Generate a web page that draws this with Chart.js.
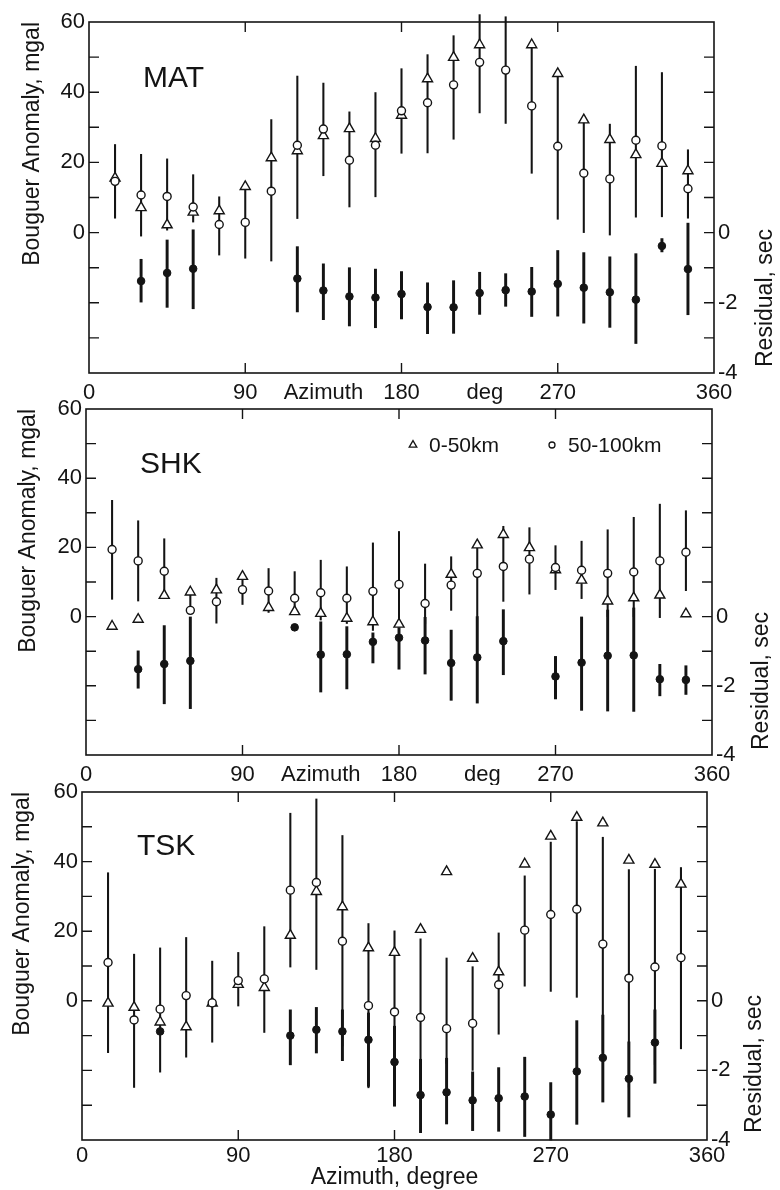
<!DOCTYPE html>
<html>
<head>
<meta charset="utf-8">
<script src="https://cdn.jsdelivr.net/npm/chart.js@4.4.1/dist/chart.umd.min.js"></script>
<style>
html,body{margin:0;padding:0;background:#fff;}
body{width:780px;height:1190px;position:relative;overflow:hidden;}
canvas{position:absolute;left:0;}
</style>
</head>
<body>
<canvas id="c1"></canvas>
<canvas id="c2"></canvas>
<canvas id="c3"></canvas>
<script>
// ---------- DATA ----------
const azimuth = [15,30,45,60,75,90,105,120,135,150,165,180,195,210,225,240,255,270,285,300,315,330,345];

// MAT
const matTri   = [15.5,7.1,2.2,5.8,6.2,13.1,21.3,23.3,27.6,29.6,26.8,33.4,43.8,49.9,53.5,62.9,53.5,45.3,32.1,26.5,22.2,19.7,17.6];
const matCirc  = [14.6,10.7,10.3,7.3,2.3,2.9,11.8,24.9,29.5,20.6,24.9,34.7,37.0,42.1,48.5,46.3,36.1,24.6,16.9,15.3,26.3,24.7,12.5];
const matHi    = [25.1,22.3,21.0,16.5,10.2,13.1,32.2,44.6,42.6,34.4,39.9,46.7,50.7,56.1,62.1,61.5,53.5,45.3,32.1,30.9,47.4,45.6,23.6];
const matLo    = [4.1,-1.0,0.7,3.0,-6.4,-7.3,-8.1,4.0,16.2,7.3,10.2,22.6,22.7,26.6,34.1,31.1,16.9,3.8,0.0,-0.7,4.4,4.5,4.1];
const matRes   = [null,-1.38,-1.15,-1.03,null,null,null,-1.31,-1.65,-1.82,-1.85,-1.75,-2.12,-2.13,-1.72,-1.64,-1.68,-1.46,-1.57,-1.70,-1.91,-0.38,-1.04];
const matResHi = [null,-0.76,-0.21,0.08,null,null,null,-0.40,-0.89,-1.00,-1.04,-1.11,-1.43,-1.37,-1.13,-1.17,-0.99,-0.51,-0.57,-0.69,-0.60,-0.17,0.27];
const matResLo = [null,-1.98,-2.13,-2.17,null,null,null,-2.26,-2.48,-2.66,-2.71,-2.46,-2.88,-2.87,-2.33,-2.10,-2.39,-2.38,-2.58,-2.70,-3.16,-0.55,-2.34];

// SHK
const shkTri   = [-2.8,-0.8,6.1,7.1,7.7,11.6,2.6,1.4,0.9,-0.5,-1.5,-2.2,null,12.2,20.7,23.7,19.9,13.5,10.5,4.5,5.4,6.2,0.8];
const shkCirc  = [19.4,16.1,13.1,1.8,4.3,7.8,7.4,5.3,6.9,5.3,7.3,9.3,3.8,9.1,12.5,14.5,16.6,14.2,13.4,12.5,12.9,16.1,18.6];
const shkHi    = [33.6,27.7,22.5,7.1,11.1,11.6,13.9,13.0,16.3,14.4,21.3,24.6,15.2,17.3,20.7,26.1,25.7,20.5,21.8,25.1,28.7,32.5,30.6];
const shkLo    = [5.0,4.5,6.1,1.8,-1.9,3.5,1.2,1.4,-1.0,-2.0,-4.0,-2.2,-2.0,1.8,0.0,4.4,6.5,7.8,5.2,0.0,0.0,-0.3,7.5];
const shkRes   = [null,-1.52,-1.37,-1.28,null,null,null,-0.31,-1.10,-1.09,-0.73,-0.61,-0.69,-1.34,-1.18,-0.71,null,-1.73,-1.33,-1.13,-1.12,-1.81,-1.83];
const shkResHi = [null,-0.99,-0.26,-0.01,null,null,null,null,-0.15,-0.29,-0.47,-0.32,-0.02,-0.39,0.0,0.20,null,-1.15,-0.01,0.19,0.25,-1.38,-1.42];
const shkResLo = [null,-2.07,-2.52,-2.66,null,null,null,null,-2.18,-2.09,-1.34,-1.52,-1.66,-2.42,-2.50,-1.68,null,-2.38,-2.71,-2.73,-2.74,-2.29,-2.25];

// TSK
const tskTri   = [-0.7,-1.9,-6.1,-7.5,-0.7,4.7,3.8,18.8,31.4,27.0,15.2,13.9,20.5,37.1,12.2,8.3,39.3,47.3,52.7,51.1,40.4,39.2,33.5];
const tskCirc  = [11.0,-5.5,-2.4,1.5,-0.6,5.8,6.3,31.8,34.0,17.1,-1.4,-3.2,-4.8,-8.0,-6.5,4.6,20.3,24.8,26.3,16.3,6.5,9.7,12.4];
const tskHi    = [36.8,13.4,15.2,18.2,11.4,13.9,21.3,53.9,58.0,47.5,22.2,20.1,17.8,12.3,9.8,19.5,35.9,45.6,51.5,47.0,37.7,37.8,38.3];
const tskLo    = [-14.9,-24.9,-20.5,-16.2,-11.9,-1.5,-9.1,9.7,9.0,-13.0,-25.0,-26.0,-27.4,-18.0,-20.0,-9.6,4.2,2.7,1.0,-14.4,-24.8,-18.3,-13.8];
const tskRes   = [null,null,-0.88,null,null,null,null,-1.00,-0.83,-0.88,-1.12,-1.76,-2.71,-2.63,-2.86,-2.80,-2.75,-3.27,-2.03,-1.64,-2.24,-1.20,null];
const tskResHi = [null,null,null,null,null,null,null,-0.26,-0.19,-0.26,-0.35,-0.73,-1.68,-1.65,-2.04,-1.92,-1.62,-2.35,-0.57,-0.41,-1.18,-0.26,null];
const tskResLo = [null,null,null,null,null,null,null,-1.84,-1.50,-1.72,-2.46,-3.03,-3.79,-3.54,-3.73,-3.75,-3.90,-4.00,-3.55,-2.91,-3.34,-2.37,null];

// ---------- TICKS / LABELS ----------
const xTickValuesMid  = [0,90,135,180,228,270,360];
const xTickLabelsMid  = ['0','90','Azimuth','180','deg','270','360'];
const xTickValuesLast = [0,90,180,270,360];
const xTickLabelsLast = ['0','90','180','270','360'];
const xMarkValues     = [90,180,270];
const leftLabelled    = [0,20,40,60];
const rightLabelled   = [0,-2,-4];
const leftTitle  = 'Bouguer Anomaly, mgal';
const rightTitle = 'Residual, sec';
const bottomTitle = 'Azimuth, degree';
const legendTri = '0-50km';
const legendCirc = '50-100km';

// ---------- STYLE ----------
const INK = '#141414';
const FONT = '"Liberation Sans", Arial, sans-serif';
const TICK = 10;

function pts(xs, ys){ return xs.map((x,i)=> ys[i]==null?null:{x:x,y:ys[i]}).filter(Boolean); }
function rng(xs, lo, hi){ return xs.map((x,i)=> (lo[i]==null||hi[i]==null)?null:{x:x,y:[lo[i],hi[i]]}).filter(Boolean); }

function makeDecor(cfg){
  return {
    id:'decor',
    beforeDatasetsDraw(chart){
      const ctx = chart.ctx, a = chart.chartArea, s = chart.scales;
      ctx.save();
      ctx.strokeStyle = INK; ctx.lineWidth = 1.6;
      ctx.strokeRect(a.left, a.top, a.right-a.left, a.bottom-a.top);
      ctx.lineWidth = 1.4;
      ctx.beginPath();
      xMarkValues.forEach(v=>{
        const x = s.x.getPixelForValue(v);
        ctx.moveTo(x,a.top); ctx.lineTo(x,a.top+TICK);
        ctx.moveTo(x,a.bottom); ctx.lineTo(x,a.bottom-TICK);
      });
      s.y.ticks.forEach(t=>{
        const y = s.y.getPixelForValue(t.value);
        if (y>a.top+1 && y<a.bottom-1){ ctx.moveTo(a.left,y); ctx.lineTo(a.left+TICK,y); }
      });
      s.y2.ticks.forEach(t=>{
        const y = s.y2.getPixelForValue(t.value);
        if (y>a.top+1 && y<a.bottom-1){ ctx.moveTo(a.right,y); ctx.lineTo(a.right-TICK,y); }
      });
      ctx.stroke();
      ctx.restore();
    },
    afterDraw(chart){
      const ctx = chart.ctx;
      ctx.save();
      ctx.fillStyle = INK;
      // station name
      ctx.font = '30px ' + FONT;
      ctx.textAlign = 'left'; ctx.textBaseline = 'alphabetic';
      ctx.fillText(cfg.name, cfg.nameX, cfg.nameY);
      // right title
      ctx.save();
      ctx.font = '23px ' + FONT;
      ctx.translate(cfg.rTitleX, cfg.rTitleY);
      ctx.rotate(-Math.PI/2);
      ctx.textAlign = 'left'; ctx.textBaseline = 'middle';
      ctx.fillText(rightTitle, 0, 0);
      ctx.restore();
      // legend
      if (cfg.legend){
        const L = cfg.legend;
        ctx.strokeStyle = INK; ctx.lineWidth = 1.3; ctx.fillStyle = '#fff';
        const r = 4.4;
        ctx.beginPath();
        ctx.moveTo(L.triX, L.y - r);
        ctx.lineTo(L.triX + r*0.866, L.y + r*0.5);
        ctx.lineTo(L.triX - r*0.866, L.y + r*0.5);
        ctx.closePath(); ctx.fill(); ctx.stroke();
        ctx.beginPath(); ctx.arc(L.circX, L.y, 3, 0, Math.PI*2); ctx.fill(); ctx.stroke();
        ctx.fillStyle = INK;
        ctx.font = '21px ' + FONT;
        ctx.textAlign = 'left'; ctx.textBaseline = 'middle';
        ctx.fillText(legendTri, L.triX + 16, L.y + 1);
        ctx.fillText(legendCirc, L.circX + 16, L.y + 1);
      }
      ctx.restore();
    }
  };
}

function makeChart(cfg){
  const cv = document.getElementById(cfg.id);
  cv.width = 780; cv.height = cfg.height;
  cv.style.top = cfg.top + 'px';
  cv.style.width = '780px'; cv.style.height = cfg.height + 'px';
  const xv = cfg.last ? xTickValuesLast : xTickValuesMid;
  const xl = cfg.last ? xTickLabelsLast : xTickLabelsMid;
  const tickFont = {family: FONT, size: 22};
  new Chart(cv.getContext('2d'), {
    type: 'scatter',
    data: {
      datasets: [
        {type:'bar', data: rng(azimuth, cfg.lo, cfg.hi), backgroundColor: INK, borderWidth:0,
         barThickness: 1.4, grouped:false, yAxisID:'y', order:10, clip:false},
        {type:'bar', data: rng(azimuth, cfg.resLo, cfg.resHi), backgroundColor: INK, borderWidth:0,
         barThickness: 2.3, grouped:false, yAxisID:'y2', order:9, clip:false},
        {type:'scatter', data: pts(azimuth, cfg.tri), pointStyle:'triangle', pointRadius:5.8,
         backgroundColor:'#fff', borderColor:INK, borderWidth:1.4, yAxisID:'y', order:3, clip:false},
        {type:'scatter', data: pts(azimuth, cfg.circ), pointStyle:'circle', pointRadius:4.0,
         backgroundColor:'#fff', borderColor:INK, borderWidth:1.4, yAxisID:'y', order:2, clip:false},
        {type:'scatter', data: pts(azimuth, cfg.res), pointStyle:'circle', pointRadius:3.8,
         backgroundColor:INK, borderColor:INK, borderWidth:1, yAxisID:'y2', order:1, clip:false}
      ]
    },
    options: {
      responsive:false, animation:false, events:[],
      layout:{padding:{top:cfg.padTop, left:0, right:0, bottom:0}},
      plugins:{legend:{display:false}, tooltip:{enabled:false}},
      scales:{
        x:{type:'linear', min:0, max:360, offset:false, position:'bottom',
           grid:{display:false, drawTicks:false}, border:{display:false},
           afterBuildTicks: s => { s.ticks = xv.map(v=>({value:v})); },
           afterFit: s => { s.height = cfg.xAxisH; },
           ticks:{autoSkip:false, maxRotation:0, minRotation:0, padding:cfg.xPad, color:INK, font:tickFont,
                  callback: v => { const i = xv.indexOf(v); return i<0 ? '' : xl[i]; }},
           title: cfg.last ? {display:true, text:bottomTitle, color:INK, font:{family:FONT, size:23}, padding:{top:0,bottom:-1}} : {display:false}
        },
        y:{type:'linear', min:-40, max:60, position:'left',
           grid:{display:false, drawTicks:false}, border:{display:false},
           afterBuildTicks: s => { const t=[]; for(let v=-40; v<=60; v+=10) t.push({value:v}); s.ticks=t; },
           afterFit: s => { s.width = cfg.left; },
           ticks:{autoSkip:false, padding:4, color:INK, font:tickFont,
                  callback: v => leftLabelled.includes(v) ? String(v) : ''},
           title:{display:true, text:leftTitle, align:'end', color:INK, font:{family:FONT, size:23},
                  padding:{top:cfg.yTitlePad, bottom:0}}
        },
        y2:{type:'linear', min:-4, max:6, position:'right',
           grid:{display:false, drawTicks:false}, border:{display:false},
           afterBuildTicks: s => { const t=[]; for(let v=-4; v<=6; v+=1) t.push({value:v}); s.ticks=t; },
           afterFit: s => { s.width = cfg.right2; },
           ticks:{autoSkip:false, padding:4, color:INK, font:tickFont,
                  callback: v => rightLabelled.includes(v) ? String(v) : ''}
        }
      }
    },
    plugins:[makeDecor(cfg)]
  });
}

makeChart({id:'c1', top:0, height:410, padTop:22, left:89, right2:66, xAxisH:37, xPad:7, yTitlePad:19,
  name:'MAT', nameX:143, nameY:87, rTitleX:766, rTitleY:367, last:false, legend:null,
  tri:matTri, circ:matCirc, hi:matHi, lo:matLo, res:matRes, resHi:matResHi, resLo:matResLo});

makeChart({id:'c2', top:385, height:400, padTop:24, left:86, right2:68, xAxisH:30, xPad:7, yTitlePad:15,
  name:'SHK', nameX:140, nameY:88, rTitleX:762, rTitleY:365, last:false,
  legend:{triX:413, circX:552, y:60},
  tri:shkTri, circ:shkCirc, hi:shkHi, lo:shkLo, res:shkRes, resHi:shkResHi, resLo:shkResLo});

makeChart({id:'c3', top:768, height:422, padTop:24, left:82, right2:73, xAxisH:50, xPad:3, yTitlePad:9,
  name:'TSK', nameX:137, nameY:87, rTitleX:755, rTitleY:365, last:true, legend:null,
  tri:tskTri, circ:tskCirc, hi:tskHi, lo:tskLo, res:tskRes, resHi:tskResHi, resLo:tskResLo});
</script>
</body>
</html>
